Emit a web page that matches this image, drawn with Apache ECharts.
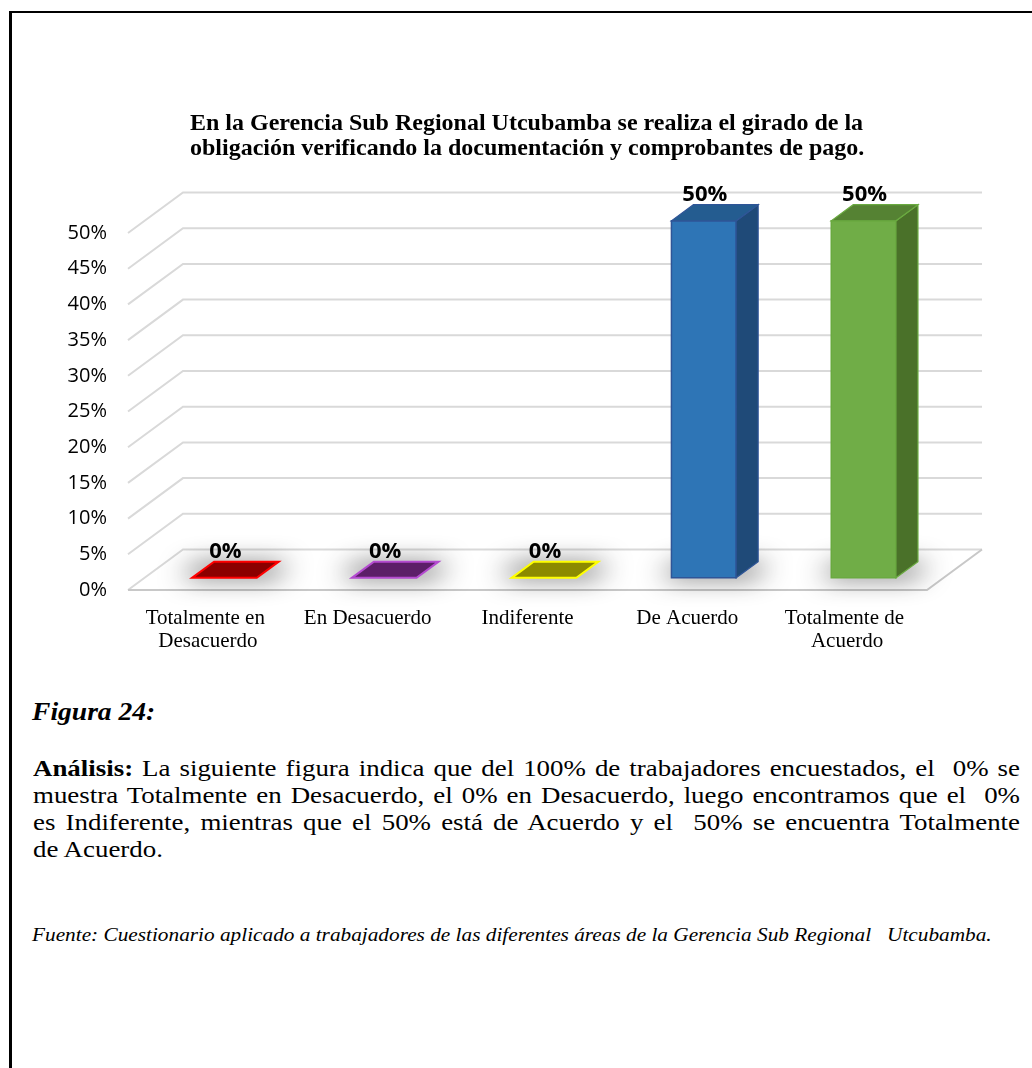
<!DOCTYPE html>
<html>
<head>
<meta charset="utf-8">
<title>Figura 24</title>
<script src="https://cdn.jsdelivr.net/npm/echarts@6/dist/echarts.min.js"></script>
<style>
  html, body { margin: 0; padding: 0; background: #fff; }
  #page { position: relative; width: 1032px; height: 1068px; overflow: hidden; background: #fff; }
  #frame { position: absolute; left: 9px; top: 11px; width: 1100px; height: 1100px;
           border-left: 3px solid #000; border-top: 2.5px solid #000; box-sizing: border-box; }
  #chart { position: absolute; left: 0; top: 0; width: 1032px; height: 680px; }
  .serif { font-family: 'Liberation Serif', 'Times New Roman', serif; color: #000; position: absolute;
           transform-origin: 0 0; white-space: pre; }
  #fig { left: 32px; top: 699px; font-size: 26px; line-height: 26px; font-weight: bold; font-style: italic; transform: scaleX(1.06); }
  #analysis { left: 33px; top: 755px; font-size: 24px; line-height: 27px; transform: scaleX(1.12); }
  #analysis .ln { display: block; }
  #source { left: 32px; top: 924px; font-size: 19px; line-height: 21px; font-style: italic; transform: scaleX(1.12); }
</style>
</head>
<body>
<div id="page">
  <div id="frame"></div>
  <div id="chart"></div>
  <div id="fig" class="serif">Figura 24:</div>
  <div id="analysis" class="serif"><span class="ln j"><b>Análisis:</b> La siguiente figura indica que del 100% de trabajadores encuestados, el  0% se</span><span class="ln j">muestra Totalmente en Desacuerdo, el 0% en Desacuerdo, luego encontramos que el  0%</span><span class="ln j">es Indiferente, mientras que el 50% está de Acuerdo y el  50% se encuentra Totalmente</span><span class="ln">de Acuerdo.</span></div>
  <div id="source" class="serif">Fuente: Cuestionario aplicado a trabajadores de las diferentes áreas de la Gerencia Sub Regional   Utcubamba.</div>
</div>
<script>
// ---- chart data ----
const chartTitle = 'En la Gerencia Sub Regional Utcubamba se realiza el girado de la\nobligación verificando la documentación y comprobantes de pago.';
const categories = ['Totalmente en Desacuerdo', 'En Desacuerdo', 'Indiferente', 'De Acuerdo', 'Totalmente de Acuerdo'];
const shares = [0, 0, 0, 0.5, 0.5];
const yTicks = [0, 0.05, 0.10, 0.15, 0.20, 0.25, 0.30, 0.35, 0.40, 0.45, 0.50];

// ---- face colours per category: front, side, top, outline ----
const faceFront = ['#8b0000', '#5c1e68', '#8c8a00', '#2e75b6', '#70ad47'];
const faceSide  = ['#6e0000', '#4a1654', '#706e00', '#1f4a78', '#4a7129'];
const faceTop   = ['#8b0000', '#5c1e68', '#8c8a00', '#245c90', '#558233'];
const faceLine  = ['#ff0000', '#b44bd0', '#ffff00', '#2f5597', '#6aaa40'];

// depth vector of the floor (back edge relative to front edge)
const DX = 55, DY = -40.5;
// bar occupies this depth slice of the floor
const D0 = 0.3, D1 = 0.7;
// the shadow caster is drawn off-canvas so only its blur lands on the floor
const SHADOW_SHIFT = 3000;

// justify the paragraph lines to the text column width
(function justifyLines() {
  const box = document.getElementById('analysis');
  const scale = 1.12, target = 987 / scale;
  box.querySelectorAll('.ln.j').forEach(function (ln) {
    ln.style.display = 'inline-block';
    const natural = ln.getBoundingClientRect().width / scale;
    const spaces = (ln.textContent.match(/ /g) || []).length;
    if (spaces > 0) ln.style.wordSpacing = ((target - natural) / spaces) + 'px';
    ln.style.display = 'block';
  });
})();

const chart = echarts.init(document.getElementById('chart'), null, { renderer: 'canvas' });

function renderGrid(params, api) {
  const cs = params.coordSys;
  const v = api.value(1);
  const y = api.coord([0, v])[1];
  const x0 = cs.x, x1 = cs.x + cs.width;
  const children = [{
    type: 'polyline',
    shape: { points: [[x0, y], [x0 + DX, y + DY], [x1 + DX, y + DY]] },
    style: { stroke: '#d9d9d9', lineWidth: 2, fill: null }
  }];
  if (v === 0) {
    children.push({
      type: 'polyline',
      shape: { points: [[x0, y], [x1, y], [x1 + DX, y + DY]] },
      style: { stroke: '#c8c8c8', lineWidth: 2, fill: null }
    });
  }
  return { type: 'group', children: children, silent: true };
}

function renderBar(params, api) {
  const i = api.value(0), v = api.value(1);
  const base = api.coord([i, 0]);
  const top = api.coord([i, v]);
  const bw = api.size([1, 0])[0] * 0.405;
  const cx = base[0] + DX * D0;
  const yb = base[1] + DY * D0;
  const yt = top[1] + DY * D0;
  const x1 = cx - bw / 2, x2 = cx + bw / 2;
  const dx = DX * (D1 - D0), dy = DY * (D1 - D0);
  const h = yb - yt;
  const S = SHADOW_SHIFT;
  const children = [];
  // soft shadow on the floor around the base
  children.push({
    type: 'polygon',
    shape: { points: [[x1 - 14 - S, yb - 2], [x2 + 14 - S, yb - 2], [x2 + dx + 14 - S, yb + dy + 4], [x1 + dx - 14 - S, yb + dy + 4]] },
    style: { fill: '#000', shadowBlur: 26, shadowColor: 'rgba(0,0,0,0.85)', shadowOffsetX: S, shadowOffsetY: 0 },
    silent: true
  });
  if (h > 0.5) {
    children.push({
      type: 'rect',
      shape: { x: x1, y: yt, width: bw, height: h },
      style: { fill: faceFront[i], stroke: faceLine[i], lineWidth: 1.5 }
    });
    children.push({
      type: 'polygon',
      shape: { points: [[x2, yt], [x2 + dx, yt + dy], [x2 + dx, yb + dy], [x2, yb]] },
      style: { fill: faceSide[i], stroke: faceLine[i], lineWidth: 1.2 }
    });
  }
  children.push({
    type: 'polygon',
    shape: { points: [[x1, yt], [x2, yt], [x2 + dx, yt + dy], [x1 + dx, yt + dy]] },
    style: { fill: faceTop[i], stroke: faceLine[i], lineWidth: h > 0.5 ? 1.2 : 2 }
  });
  children.push({
    type: 'text',
    x: cx + 1, y: yt + dy - 10,
    style: {
      text: Math.round(v * 100) + '%',
      fill: '#000', align: 'center', verticalAlign: 'middle',
      font: 'bold 22px "Open Sans", "Liberation Sans", sans-serif'
    }
  });
  return { type: 'group', children: children };
}

chart.setOption({
  animation: false,
  backgroundColor: 'transparent',
  title: {
    text: chartTitle,
    left: 185, top: 106,
    textStyle: { fontFamily: 'Liberation Serif', fontWeight: 'bold', fontSize: 24, lineHeight: 25, color: '#000' }
  },
  grid: { left: 128, right: 105, top: 233, bottom: 90, containLabel: false },
  xAxis: {
    type: 'category',
    data: categories,
    axisLine: { show: false },
    axisTick: { show: false },
    splitLine: { show: false },
    axisLabel: {
      interval: 0, margin: 17, width: 150, overflow: 'break',
      fontFamily: 'Liberation Serif', fontSize: 21, lineHeight: 23, color: '#000'
    }
  },
  yAxis: {
    type: 'value', min: 0, max: 0.5, interval: 0.05,
    axisLine: { show: false },
    axisTick: { show: false },
    splitLine: { show: false },
    axisLabel: {
      margin: 21, color: '#000', padding: [7, 0, 0, 0],
      fontFamily: '"Open Sans", "Liberation Sans", sans-serif', fontSize: 20,
      formatter: function (v) { return Math.round(v * 100) + '%'; }
    }
  },
  series: [
    {
      type: 'custom', name: 'grid', silent: true, clip: false, z: 1,
      renderItem: renderGrid,
      data: yTicks.map(function (t) { return [0, t]; })
    },
    {
      type: 'custom', name: 'respuestas', clip: false, z: 5,
      renderItem: renderBar,
      data: shares.map(function (s, i) { return [i, s]; })
    }
  ]
});
</script>
</body>
</html>
